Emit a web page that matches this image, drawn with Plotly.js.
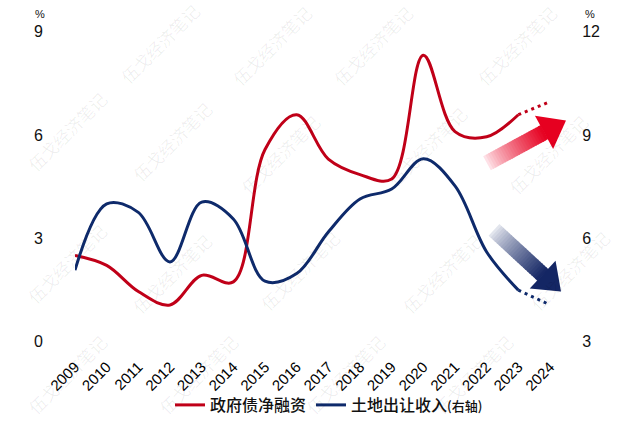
<!DOCTYPE html>
<html>
<head>
<meta charset="utf-8">
<script src="https://cdn.plot.ly/plotly-3.0.1.min.js"></script>
<style>
  html, body { margin: 0; padding: 0; background: #ffffff; }
  #chart { width: 640px; height: 422px; }
</style>
</head>
<body>
<div id="chart"></div>
<script>
// ---- data ----
const years = [2009, 2010, 2011, 2012, 2013, 2014, 2015, 2016, 2017, 2018, 2019, 2020, 2021, 2022, 2023, 2024];
const yearLabels = ['2009','2010','2011','2012','2013','2014','2015','2016','2017','2018','2019','2020','2021','2022','2023','2024'];
// 政府债净融资 (left axis, %)
const govDebtNetFinancing = [2.50, 2.21, 1.45, 1.06, 1.92, 1.73, 5.58, 6.59, 5.30, 4.85, 4.72, 8.32, 6.10, 5.95, 6.59, 6.97];
// 土地出让收入 (right axis, %)
const landSalesRevenue = [5.07, 7.00, 6.75, 5.31, 7.05, 6.56, 4.75, 4.97, 6.18, 7.14, 7.43, 8.31, 7.52, 5.60, 4.49, 4.06];
const leftTicks = [0, 3, 6, 9];
const rightTicks = [3, 6, 9, 12];
const seriesNames = ['政府债净融资', '土地出让收入<span style="font-size:13px">(右轴)</span>'];
const lastActualIndex = 14; // 2023 is last solid point, 2024 dotted

// ---- styling / geometry ----
const RED = '#C00018';
const BLUE = '#0E2A6B';
const FONT = 'Liberation Sans, Arial, Noto Sans CJK SC, sans-serif';
const CJK = 'Noto Sans CJK SC, sans-serif';
const W = 640, H = 422;
const PLOT = { l: 75, r: 550, t: 32, b: 343 };   // plot box in pixels
const px2paper = (x, y) => [x / W, (H - y) / H];

const solidRange = (arr) => arr.slice(0, lastActualIndex + 1);
const dotRange = (arr) => arr.slice(lastActualIndex);

const traces = [
  { x: solidRange(years), y: solidRange(govDebtNetFinancing), name: seriesNames[0], type: 'scatter', mode: 'lines',
    line: { color: RED, width: 3, shape: 'spline', smoothing: 1 }, yaxis: 'y', showlegend: true },
  { x: solidRange(years), y: solidRange(landSalesRevenue), name: seriesNames[1], type: 'scatter', mode: 'lines',
    line: { color: BLUE, width: 3, shape: 'spline', smoothing: 1 }, yaxis: 'y2', showlegend: true },
  { x: dotRange(years), y: dotRange(govDebtNetFinancing), type: 'scatter', mode: 'lines',
    line: { color: RED, width: 3, dash: '3px,4px' }, yaxis: 'y', showlegend: false },
  { x: dotRange(years), y: dotRange(landSalesRevenue), type: 'scatter', mode: 'lines',
    line: { color: BLUE, width: 3, dash: '3px,4px' }, yaxis: 'y2', showlegend: false }
];

// ---- gradient arrows (decoration) ----
function mix(c0, c1, t) {
  return 'rgb(' + c0.map((v, i) => Math.round(v + (c1[i] - v) * t)).join(',') + ')';
}
function arrowShapes(T, P, w, hw, hl, c0, c1, n) {
  const dx = P[0] - T[0], dy = P[1] - T[1];
  const L = Math.hypot(dx, dy);
  const u = [dx / L, dy / L], nn = [-u[1], u[0]];
  const pt = (s, o) => [T[0] + u[0] * s + nn[0] * o, T[1] + u[1] * s + nn[1] * o];
  const shaftLen = L - hl;
  const shapes = [];
  const toPath = (pts) => 'M' + pts.map(p => px2paper(p[0], p[1]).map(v => v.toFixed(5)).join(',')).join(' L') + ' Z';
  for (let i = 0; i < n; i++) {
    const s0 = shaftLen * i / n, s1 = Math.min(shaftLen * (i + 1) / n + 0.8, shaftLen + 0.5);
    const col = mix(c0, c1, Math.pow((i + 0.5) / n, 0.8));
    shapes.push({ type: 'path', xref: 'paper', yref: 'paper', layer: 'above',
      path: toPath([pt(s0, -w), pt(s1, -w), pt(s1, w), pt(s0, w)]),
      fillcolor: col, line: { width: 0 } });
  }
  shapes.push({ type: 'path', xref: 'paper', yref: 'paper', layer: 'above',
    path: toPath([pt(shaftLen, -hw), pt(L, 0), pt(shaftLen, hw)]),
    fillcolor: mix(c0, c1, 1), line: { width: 0 } });
  return shapes;
}
const shapes = [].concat(
  arrowShapes([487, 164], [566, 121], 8, 19, 25, [255, 236, 240], [230, 0, 32], 24),
  arrowShapes([494, 231], [561, 293], 8, 19, 25, [236, 238, 244], [20, 38, 100], 24)
);

// ---- watermarks ----
const watermarkSpots = [[160, 44], [272, 46], [373, 46], [517, 46],
  [67, 132], [172, 142], [280, 155], [427, 147], [548, 155],
  [67, 265], [172, 275], [300, 272], [442, 275], [570, 272],
  [67, 376], [198, 376], [345, 376], [473, 376]];
const annotations = watermarkSpots.map(p => {
  const q = px2paper(p[0], p[1]);
  return { xref: 'paper', yref: 'paper', x: q[0], y: q[1], xanchor: 'center', yanchor: 'middle',
    text: '伍戈经济笔记', showarrow: false,
    textangle: -45, font: { family: CJK, size: 17, color: 'rgba(0,0,0,0.065)' } };
});
[[40, 14], [590, 14]].forEach(p => {
  const q = px2paper(p[0], p[1]);
  annotations.push({ xref: 'paper', yref: 'paper', x: q[0], y: q[1], xanchor: 'center', yanchor: 'middle',
    text: '%', showarrow: false, font: { family: FONT, size: 11, color: '#111' } });
});

const legendPos = px2paper(329, 407);
const layout = {
  width: W, height: H,
  margin: { l: 0, r: 0, t: 0, b: 0, pad: 0 },
  paper_bgcolor: '#ffffff', plot_bgcolor: '#ffffff',
  font: { family: FONT, color: '#111', size: 16 },
  showlegend: true,
  legend: { orientation: 'h', x: legendPos[0], xanchor: 'center', y: legendPos[1], yanchor: 'middle',
    font: { family: CJK, size: 16, color: '#111', weight: 500 }, itemwidth: 30, bgcolor: 'rgba(0,0,0,0)' },
  xaxis: { domain: [PLOT.l / W, PLOT.r / W], automargin: false,
    range: [2009, 2024], tickmode: 'array', tickvals: years, ticktext: yearLabels, tickangle: -45,
    showgrid: false, zeroline: false, showline: false, ticks: 'outside', ticklen: 10, tickcolor: 'rgba(0,0,0,0)',
    tickfont: { family: FONT, size: 15, color: '#000' } },
  yaxis: { domain: [(H - PLOT.b) / H, (H - PLOT.t) / H], automargin: false,
    range: [0, 9], tickmode: 'array', tickvals: leftTicks, showgrid: false, zeroline: false, showline: false,
    ticks: 'outside', ticklen: 28, tickcolor: 'rgba(0,0,0,0)', tickfont: { family: FONT, size: 16, color: '#111' } },
  yaxis2: { automargin: false, range: [3, 12], tickmode: 'array', tickvals: rightTicks, overlaying: 'y', side: 'right',
    showgrid: false, zeroline: false, showline: false,
    ticks: 'outside', ticklen: 28, tickcolor: 'rgba(0,0,0,0)', tickfont: { family: FONT, size: 16, color: '#111' } },
  shapes: shapes,
  annotations: annotations
};

Plotly.newPlot('chart', traces, layout, { displayModeBar: false, staticPlot: true });
</script>
</body>
</html>
